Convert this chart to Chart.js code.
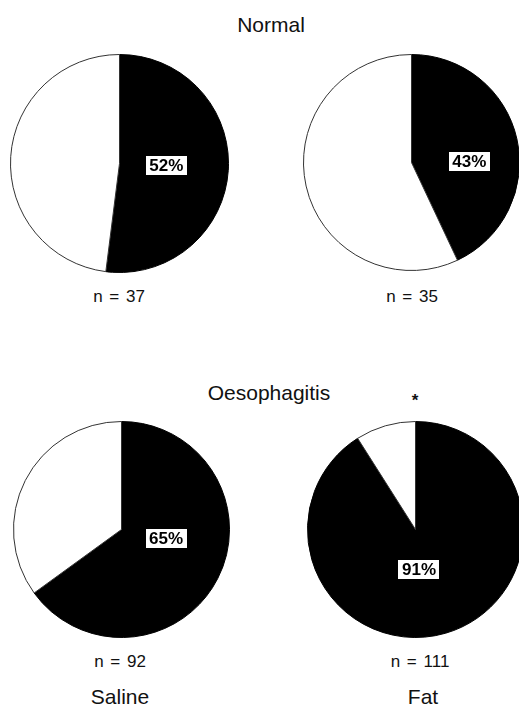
<!DOCTYPE html>
<html>
<head>
<meta charset="utf-8">
<script src="https://cdn.jsdelivr.net/npm/chart.js@4/dist/chart.umd.min.js"></script>
<style>
  html, body { margin: 0; padding: 0; background: #fff; }
  body { width: 519px; height: 709px; overflow: hidden; position: relative; font-family: "Liberation Sans", Arial, sans-serif; color: #111; }
  .box { position: absolute; }
  .txt { position: absolute; transform: translate(-50%, -50%); white-space: pre; line-height: 1; }
  .title { font-size: 21px; }
  .n { font-size: 17px; word-spacing: 2px; }
  .grp { font-size: 21px; }
</style>
</head>
<body>
<div class="txt title" style="left:271px; top:24px;">Normal</div>
<div class="txt title" style="left:269px; top:392px;">Oesophagitis</div>
<div class="txt" style="left:415px; top:400px; font-size:17px; font-weight:bold;">*</div>

<div class="box" style="left:10px; top:54px;"><canvas id="c0" width="219" height="219"></canvas></div>
<div class="box" style="left:303px; top:54px;"><canvas id="c1" width="217" height="217"></canvas></div>
<div class="box" style="left:13px; top:421px;"><canvas id="c2" width="217" height="217"></canvas></div>
<div class="box" style="left:307px; top:421px;"><canvas id="c3" width="217" height="217"></canvas></div>

<div class="txt n" id="n0" style="left:119px; top:296px;"></div>
<div class="txt n" id="n1" style="left:412px; top:296px;"></div>
<div class="txt n" id="n2" style="left:120px; top:661px;"></div>
<div class="txt n" id="n3" style="left:420px; top:661px;"></div>

<div class="txt grp" style="left:120px; top:696px;">Saline</div>
<div class="txt grp" style="left:423px; top:696px;">Fat</div>

<script>
// Data
const panels = ["Normal – Saline", "Normal – Fat", "Oesophagitis – Saline", "Oesophagitis – Fat"];
const categories = ["Positive", "Negative"];
const positivePct = [52, 43, 65, 91];
const negativePct = [48, 57, 35, 9];
const sampleSizes = [37, 35, 92, 111];

// label placement (angle clockwise from top in degrees, radius fraction) - styling only
const labelPlacement = [
  { angle: 92, r: 0.43 },
  { angle: 89, r: 0.535 },
  { angle: 101, r: 0.42 },
  { angle: 175, r: 0.37 }
];

const pctLabelPlugin = {
  id: 'pctLabel',
  afterDatasetsDraw(chart, args, opts) {
    const meta = chart.getDatasetMeta(0);
    const arc = meta.data[0];
    if (!arc) return;
    const props = arc.getProps(['x', 'y', 'outerRadius']);
    const a = opts.angle * Math.PI / 180;
    const rr = props.outerRadius * opts.r;
    const cx = props.x + Math.sin(a) * rr;
    const cy = props.y - Math.cos(a) * rr;
    const ctx = chart.ctx;
    const text = chart.data.datasets[0].data[0] + '%';
    ctx.save();
    ctx.font = 'bold 17px "Liberation Sans", Arial, sans-serif';
    const w = ctx.measureText(text).width + 7;
    const h = 19;
    ctx.fillStyle = '#fff';
    ctx.fillRect(Math.round(cx - w / 2), Math.round(cy - h / 2), Math.round(w), h);
    ctx.fillStyle = '#000';
    ctx.textAlign = 'center';
    ctx.textBaseline = 'middle';
    ctx.fillText(text, cx, cy + 1);
    ctx.restore();
  }
};

for (let i = 0; i < 4; i++) {
  document.getElementById('n' + i).textContent = 'n = ' + sampleSizes[i];
  new Chart(document.getElementById('c' + i), {
    type: 'pie',
    data: {
      labels: categories,
      datasets: [{
        label: panels[i],
        data: [positivePct[i], negativePct[i]],
        backgroundColor: ['#000000', '#ffffff'],
        borderColor: ['#000000', '#333333'],
        borderWidth: 1
      }]
    },
    options: {
      responsive: false,
      animation: false,
      events: [],
      layout: { padding: 0 },
      plugins: {
        legend: { display: false },
        tooltip: { enabled: false },
        title: { display: false },
        pctLabel: labelPlacement[i]
      }
    },
    plugins: [pctLabelPlugin]
  });
}
</script>
</body>
</html>
